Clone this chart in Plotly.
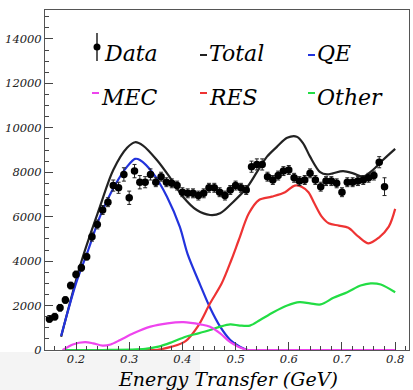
import plotly.graph_objects as go

# ---------------- data ----------------
energy = [0.15, 0.16, 0.17, 0.18, 0.19, 0.20, 0.21, 0.22, 0.23, 0.24,
          0.25, 0.26, 0.27, 0.28, 0.29, 0.30, 0.31, 0.32, 0.33, 0.34,
          0.35, 0.36, 0.37, 0.38, 0.39, 0.40, 0.41, 0.42, 0.43, 0.44,
          0.45, 0.46, 0.47, 0.48, 0.49, 0.50, 0.51, 0.52, 0.53, 0.54,
          0.55, 0.56, 0.57, 0.58, 0.59, 0.60, 0.61, 0.62, 0.63, 0.64,
          0.65, 0.66, 0.67, 0.68, 0.69, 0.70, 0.71, 0.72, 0.73, 0.74,
          0.75, 0.76, 0.77, 0.78]
data_y = [1400, 1500, 1900, 2250, 2900, 3400, 3700, 4200, 5100, 5650,
          6300, 6650, 7400, 7300, 7900, 6850, 8050, 7550, 7550, 7900,
          7550, 7800, 7550, 7500, 7400, 7100, 7050, 7050, 6950, 7050,
          7300, 7300, 7100, 6950, 7200, 7400, 7300, 7200, 8250, 8350,
          8350, 7800, 7650, 7850, 8050, 8100, 7750, 7600, 7650, 7950,
          7650, 7350, 7600, 7600, 7500, 7100, 7550, 7550, 7600, 7650,
          7750, 7850, 8450, 7350]
data_err = [150, 150, 150, 150, 150, 150, 150, 150, 200, 200,
            200, 200, 250, 250, 300, 300, 300, 300, 250, 250,
            200, 200, 200, 200, 200, 200, 200, 200, 200, 200,
            200, 200, 200, 200, 200, 200, 200, 200, 250, 250,
            250, 200, 200, 200, 200, 200, 200, 200, 200, 200,
            200, 200, 200, 200, 200, 200, 200, 200, 200, 200,
            200, 200, 250, 400]

total_x = [0.172, 0.211, 0.245, 0.27, 0.296, 0.311, 0.326, 0.352, 0.377, 0.401,
           0.427, 0.452, 0.471, 0.495, 0.521, 0.540, 0.559, 0.578, 0.597, 0.615,
           0.627, 0.640, 0.659, 0.672, 0.683, 0.702, 0.721, 0.739, 0.758, 0.777, 0.80]
total_y = [600, 4050, 6450, 8100, 9100, 9350, 9200, 8550, 7750, 6900,
           6300, 6075, 6150, 6650, 7300, 8000, 8700, 9150, 9550, 9600,
           9300, 8700, 8000, 7900, 7950, 8050, 7950, 7800, 8100, 8550, 9050]

qe_x = [0.172, 0.20, 0.223, 0.245, 0.273, 0.296, 0.311, 0.32, 0.345, 0.371,
        0.395, 0.41, 0.434, 0.452, 0.471, 0.49, 0.508, 0.523, 0.54, 0.80]
qe_y = [630, 3000, 4500, 6000, 7400, 8250, 8600, 8550, 7950, 6900,
        5550, 4300, 2900, 1900, 1050, 450, 150, 0, 0, 0]

mec_x = [0.175, 0.194, 0.217, 0.232, 0.25, 0.265, 0.283, 0.308, 0.34, 0.372,
         0.402, 0.434, 0.452, 0.471, 0.49, 0.505, 0.523, 0.54, 0.80]
mec_y = [0, 250, 350, 300, 200, 250, 450, 750, 1050, 1200,
         1250, 1150, 1050, 750, 350, 150, 0, 0, 0]

res_x = [0.33, 0.35, 0.38, 0.406, 0.43, 0.452, 0.474, 0.492, 0.506, 0.525,
         0.544, 0.568, 0.593, 0.611, 0.624, 0.637, 0.648, 0.662, 0.675, 0.694,
         0.712, 0.731, 0.75, 0.769, 0.788, 0.80]
res_y = [0, 0, 150, 400, 1100, 2100, 3000, 4050, 4950, 6150,
         6750, 6900, 7100, 7400, 7350, 7100, 6600, 6000, 5700, 5600,
         5500, 5100, 4800, 5050, 5550, 6350]

oth_x = [0.175, 0.25, 0.33, 0.355, 0.38, 0.406, 0.43, 0.452, 0.471, 0.49,
         0.508, 0.527, 0.546, 0.571, 0.597, 0.62, 0.64, 0.66, 0.684, 0.71,
         0.735, 0.754, 0.773, 0.80]
oth_y = [0, 0, 50, 150, 350, 600, 750, 900, 1050, 1150,
         1100, 1100, 1350, 1700, 2000, 2150, 2100, 2050, 2350, 2600,
         2900, 3000, 2950, 2600]

y_ticks = [0, 2000, 4000, 6000, 8000, 10000, 12000, 14000]
x_ticks = [0.2, 0.3, 0.4, 0.5, 0.6, 0.7, 0.8]

# ---------------- styles ----------------
C_TOTAL = "#222222"
C_QE = "#2233dd"
C_MEC = "#ee44ee"
C_RES = "#ee3333"
C_OTH = "#22dd44"
SERIF = "DejaVu Serif"

W, H = 413, 390
L, R, T, B = 45, 4, 10, 40
PW, PH = W - L - R, H - T - B


def px(x):
    return (x - L) / PW


def py(y):
    return (H - B - y) / PH


fig = go.Figure()

for xs, ys, col in [(total_x, total_y, C_TOTAL), (qe_x, qe_y, C_QE),
                    (res_x, res_y, C_RES), (oth_x, oth_y, C_OTH),
                    (mec_x, mec_y, C_MEC)]:
    fig.add_trace(go.Scatter(x=xs, y=ys, mode="lines",
                             line=dict(color=col, width=2.2, shape="spline", smoothing=0.9),
                             showlegend=False, hoverinfo="skip"))

fig.add_trace(go.Scatter(
    x=energy, y=data_y, mode="markers",
    marker=dict(color="black", size=7.5),
    error_y=dict(type="data", array=data_err, color="#222", thickness=1, width=2),
    showlegend=False))

shapes = []
shapes.append(dict(type="rect", xref="paper", yref="paper", layer="below",
                   x0=px(0), x1=px(200), y0=py(390), y1=py(352),
                   fillcolor="#f4f4f4", line=dict(width=0)))
shapes.append(dict(type="line", xref="paper", yref="paper",
                   x0=px(97), x1=px(97), y0=py(33), y1=py(61),
                   line=dict(color="black", width=1.3)))
shapes.append(dict(type="circle", xref="paper", yref="paper",
                   x0=px(93.5), x1=px(100.5), y0=py(43.5), y1=py(50.5),
                   fillcolor="black", line=dict(color="black", width=0)))
for (x0, y0, col) in [(200, 55, C_TOTAL), (308, 55, C_QE),
                      (92, 93, C_MEC), (200, 93, C_RES), (308, 93, C_OTH)]:
    shapes.append(dict(type="line", xref="paper", yref="paper",
                       x0=px(x0), x1=px(x0 + 7), y0=py(y0), y1=py(y0),
                       line=dict(color=col, width=2)))

annotations = []
for (x0, y0, txt) in [(102, 54, "Data"), (207, 54, "Total"), (315, 54, "QE"),
                      (99, 97, "MEC"), (207, 97, "RES"), (315, 97, "Other")]:
    annotations.append(dict(text=txt, xref="paper", yref="paper",
                            x=px(x0), y=py(y0), xanchor="left", yanchor="middle",
                            showarrow=False,
                            font=dict(family=SERIF, size=22, color="black", style="italic")))
annotations.append(dict(text="Energy Transfer (GeV)", xref="paper", yref="paper",
                        x=px(228), y=py(378.5), xanchor="center", yanchor="middle",
                        showarrow=False, borderpad=0,
                        font=dict(family=SERIF, size=19, color="black", style="italic")))

tickfont = dict(family=SERIF, size=11.5, color="#222", style="italic")

fig.update_layout(
    width=W, height=H,
    margin=dict(l=L, r=R, t=T, b=B, pad=0),
    paper_bgcolor="white", plot_bgcolor="rgba(0,0,0,0)",
    shapes=shapes, annotations=annotations,
    showlegend=False,
    xaxis=dict(range=[0.1417, 0.826], tickvals=x_ticks, ticktext=[str(v) for v in x_ticks],
               ticks="inside", ticklen=8, tickcolor="#444", tickwidth=1,
               ticklabelstandoff=-2,
               minor=dict(dtick=0.02, tick0=0.2, ticks="inside", ticklen=4, tickcolor="#444"),
               showline=True, linecolor="#555", linewidth=1, mirror=True,
               showgrid=False, zeroline=False, tickfont=tickfont),
    yaxis=dict(range=[0, 15300], tickvals=y_ticks, ticktext=[str(v) for v in y_ticks],
               ticks="inside", ticklen=8, tickcolor="#444", tickwidth=1,
               minor=dict(dtick=500, tick0=0, ticks="inside", ticklen=4, tickcolor="#444"),
               showline=True, linecolor="#555", linewidth=1, mirror=True,
               showgrid=False, zeroline=False, tickfont=tickfont),
)

fig.write_html("out.html")
